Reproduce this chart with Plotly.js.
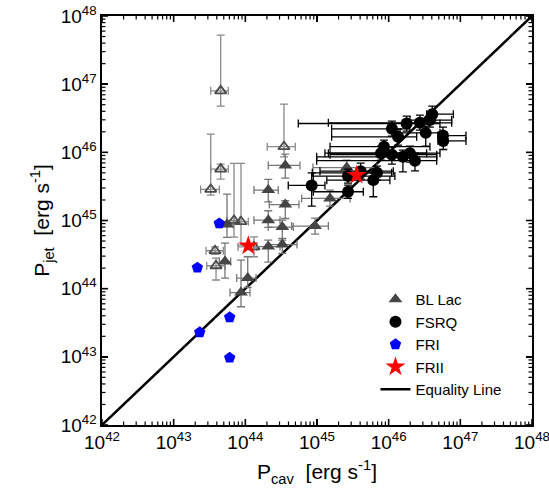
<!DOCTYPE html>
<html>
<head>
<meta charset="utf-8">
<script src="https://cdn.plot.ly/plotly-3.0.1.min.js"></script>
<style>html,body{margin:0;padding:0;background:#fff;}#chart{width:549px;height:501px;}</style>
</head>
<body>
<div id="chart"></div>
<script>
// ---- BL Lac (filled triangles) ----
const blX   = [3.61e44, 2.09e44, 3.61e44, 2.09e44, 5.55e43, 3.28e44, 2.09e44, 3.28e44, 5.2e43, 1.08e44, 8.7e43, 2.6e45, 1.52e45, 9.4e44];
const blY   = [6.43e45, 2.79e45, 1.71e45, 1.01e45, 8.71e44, 8.0e44, 4.14e44, 4.43e44, 2.51e44, 1.43e44, 8.77e43, 5.97e45, 2.11e45, 8.28e44];
const blXlo = [2.09e44, 1.32e44, 2.16e44, 1.32e44, 4.43e43, 2.09e44, 1.32e44, 2.09e44, 4.33e43, 7.57e43, 6.11e43, 8.79e44, 6.11e44, 4.43e44];
const blXhi = [5.79e44, 2.88e44, 5.61e44, 3.05e44, 6.79e43, 4.67e44, 3.05e44, 5.26e44, 6.25e43, 1.41e44, 1.16e44, 6.87e45, 2.89e45, 1.44e45];
const blYlo = [4.19e45, 1.88e45, 1.07e45, 7.92e44, 5.67e44, 5.16e44, 2.45e44, 3.29e44, 1.43e44, 1.04e44, 5.43e43, 4.63e45, 1.63e45, 6.32e44];
const blYhi = [9.41e45, 4.01e45, 1.95e45, 1.39e45, 2.44e45, 1.01e45, 5.16e44, 5.47e44, 4.66e44, 2.94e44, 2.63e44, 7.69e45, 2.79e45, 1.08e45];

// ---- BL Lac (open triangles) ----
const boX   = [4.53e43, 3.46e44, 4.53e43, 3.29e43, 6.95e43, 8.7e43, 3.78e43, 3.9e43, 1.32e44];
const boY   = [7.98e46, 1.21e46, 5.68e45, 2.86e45, 1.0e45, 9.6e44, 3.6e44, 2.17e44, 4.1e44];
const boXlo = [3.29e43, 2.02e44, 3.29e43, 2.38e43, 5.5e43, 7.0e43, 2.83e43, 2.89e43, 7.9e43];
const boXhi = [5.78e43, 4.98e44, 5.78e43, 4.34e43, 8.3e43, 1.1e44, 4.93e43, 5.2e43, 1.45e44];
const boYlo = [4.76e46, 8.6e45, 4.05e45, 2.36e45, 5.71e44, 4.36e44, 3.22e44, 1.34e44, 2.94e44];
const boYhi = [5.23e47, 5.09e46, 6.71e45, 1.85e46, 6.87e45, 6.87e45, 4.11e44, 2.81e44, 5.77e44];

// ---- FSRQ ----
const fsX   = [8.43e44, 2.71e45, 2.71e45, 4.07e45, 6.1e45, 6.87e45, 7.81e45, 8.6e45, 1.11e46, 1.11e46, 1.35e46, 1.78e46, 1.58e46, 1.98e46, 2.33e46, 2.73e46, 3.29e46, 3.77e46, 4.06e46, 5.73e46, 5.78e46];
const fsY   = [3.27e45, 2.64e45, 4.48e45, 5.3e45, 3.91e45, 5.0e45, 9.73e45, 1.21e46, 9.25e45, 2.21e46, 1.69e46, 2.65e46, 8.6e45, 9.73e45, 7.55e45, 2.71e46, 1.93e46, 2.97e46, 3.63e46, 1.76e46, 1.47e46];
const fsXlo = [3.97e44, 8.88e44, 8.88e44, 1.1e45, 1.37e45, 8.6e44, 1.29e45, 1.52e45, 1.52e45, 1.6e45, 1.6e45, 5.48e44, 9.9e44, 1.44e45, 9.9e44, 1.44e45, 1.44e46, 1.98e46, 3.39e46, 4.88e46, 4.88e46];
const fsXhi = [1.29e45, 4.43e45, 1.22e46, 1.16e46, 1.04e46, 1.1e46, 3.39e46, 3.77e46, 4.68e46, 1.98e46, 2.46e46, 5.2e46, 4.68e46, 5.2e46, 4.68e46, 7.57e46, 5.2e46, 7.57e46, 7.98e46, 1.2e47, 1.2e47];
const fsYlo = [1.63e45, 2.11e45, 3.53e45, 4.05e45, 2.23e45, 3.91e45, 7.69e45, 9.73e45, 6.71e45, 1.73e46, 1.28e46, 2.05e46, 5.18e45, 7.18e45, 5.36e45, 2.12e46, 1.23e46, 2.34e46, 2.87e46, 1.36e46, 1.1e46];
const fsYhi = [5.0e45, 3.3e45, 5.67e45, 6.95e45, 4.95e45, 6.28e45, 1.23e46, 1.51e46, 1.19e46, 2.87e46, 2.19e46, 3.4e46, 1.08e46, 1.23e46, 9.73e45, 3.51e46, 2.42e46, 3.88e46, 4.76e46, 2.34e46, 1.85e46];

// ---- FRI ----
const friX = [4.33e43, 2.14e43, 2.31e43, 6.05e43, 6.05e43];
const friY = [9.07e44, 2.03e44, 2.29e43, 3.8e43, 9.7e42];

// ---- FRII ----
const friiX = [1.1e44, 3.58e45];
const friiY = [4.26e44, 4.63e45];

// ---- Equality line ----
const eqX = [1e42, 1e48];
const eqY = [1e42, 1e48];

// ---- axis decades / minor tick multipliers ----
const decades = [42, 43, 44, 45, 46, 47, 48];
const minorMult = [2, 3, 4, 5, 6, 7, 8, 9];

const FONT = "Arial, Liberation Sans, sans-serif";
const plus  = (v, hi) => v.map((x, i) => hi[i] - x);
const minus = (v, lo) => v.map((x, i) => x - lo[i]);

const minorVals = [];
decades.slice(0, -1).forEach(d => minorMult.forEach(m => minorVals.push(m * Math.pow(10, d))));
const majorVals = decades.map(d => Math.pow(10, d));

const W = 549, H = 501;
const M = {l: 102, r: 17, t: 16, b: 76};
const pw = W - M.l - M.r, ph = H - M.t - M.b;
const LO = decades[0], HI = decades[decades.length - 1], SPAN = HI - LO;

// tick marks (inside, all four sides) built as line segments from the tick values
function tickSegments(vals, len, tx, ty) {
  const dy = len / ph * SPAN, dx = len / pw * SPAN;
  vals.forEach(v => {
    // bottom & top
    tx.push(v, v, null, v, v, null);
    ty.push(Math.pow(10, LO), Math.pow(10, LO + dy), null, Math.pow(10, HI), Math.pow(10, HI - dy), null);
    // left & right
    tx.push(Math.pow(10, LO), Math.pow(10, LO + dx), null, Math.pow(10, HI), Math.pow(10, HI - dx), null);
    ty.push(v, v, null, v, v, null);
  });
}
const majTx = [], majTy = [], minTx = [], minTy = [];
tickSegments(majorVals, 6, majTx, majTy);
tickSegments(minorVals, 3.5, minTx, minTy);

function errTrace(name, x, y, xlo, xhi, ylo, yhi, marker, ecol, show, rank) {
  return {
    type: 'scatter', mode: 'markers', name: name, x: x, y: y,
    showlegend: show, legendrank: rank,
    marker: marker,
    error_x: {type: 'data', symmetric: false, array: plus(x, xhi), arrayminus: minus(x, xlo), color: ecol, thickness: 1.3, width: 4},
    error_y: {type: 'data', symmetric: false, array: plus(y, yhi), arrayminus: minus(y, ylo), color: ecol, thickness: 1.3, width: 4}
  };
}

const traces = [
  {type: 'scatter', mode: 'lines', x: majTx, y: majTy, showlegend: false, hoverinfo: 'skip',
   connectgaps: false, cliponaxis: false, line: {color: '#000', width: 1.6}},
  {type: 'scatter', mode: 'lines', x: minTx, y: minTy, showlegend: false, hoverinfo: 'skip',
   connectgaps: false, cliponaxis: false, line: {color: '#000', width: 1.2}},
  {type: 'scatter', mode: 'lines', name: 'Equality Line', x: eqX, y: eqY, legendrank: 5,
   line: {color: '#000', width: 2.5}},
  errTrace('BL Lac open', boX, boY, boXlo, boXhi, boYlo, boYhi,
    {symbol: 'triangle-up-open', size: 10, color: '#4a4a4a', line: {width: 1.8, color: '#4a4a4a'}}, '#8a8a8a', false, 10),
  errTrace('BL Lac', blX, blY, blXlo, blXhi, blYlo, blYhi,
    {symbol: 'triangle-up', size: 12, color: '#454545', line: {width: 0}}, '#777777', true, 1),
  errTrace('FSRQ', fsX, fsY, fsXlo, fsXhi, fsYlo, fsYhi,
    {symbol: 'circle', size: 12, color: '#000', line: {width: 0}}, '#000000', true, 2),
  {type: 'scatter', mode: 'markers', name: 'FRI', x: friX, y: friY, legendrank: 3,
   marker: {symbol: 'pentagon', size: 12, color: '#0000ff', line: {width: 0}}},
  {type: 'scatter', mode: 'markers', name: 'FRII', x: friiX, y: friiY, legendrank: 4,
   marker: {symbol: 'star', size: 15, color: '#ff0000', line: {width: 0}}}
];

const axisCommon = {
  type: 'log', range: [LO, HI], tickmode: 'array', tickvals: majorVals,
  ticktext: decades.map(d => '10<sup>' + d + '</sup>'),
  showgrid: false, zeroline: false,
  showline: true, linecolor: '#000', linewidth: 1.6, mirror: 'allticks',
  ticks: 'inside', ticklen: 6, tickwidth: 1.6, tickcolor: '#000',
  ticklabeloverflow: 'allow',
  tickfont: {family: FONT, size: 19, color: '#000'}
};

const layout = {
  width: W, height: H,
  margin: M,
  paper_bgcolor: '#fff', plot_bgcolor: '#fff',
  showlegend: true,
  legend: {x: 0.636, y: 0.347, xanchor: 'left', yanchor: 'top', bgcolor: 'rgba(0,0,0,0)',
           font: {family: FONT, size: 15, color: '#000'}},
  xaxis: Object.assign({}, axisCommon, {
    title: {text: 'P<sub>cav</sub>&nbsp;&nbsp;[erg s<sup>-1</sup>]', font: {family: FONT, size: 21, color: '#000'}, standoff: 12}
  }),
  yaxis: Object.assign({}, axisCommon, {
    title: {text: 'P<sub>jet</sub>&nbsp;&nbsp;[erg s<sup>-1</sup>]', font: {family: FONT, size: 21, color: '#000'}, standoff: 5}
  })
};

Plotly.newPlot('chart', traces, layout, {displayModeBar: false, staticPlot: true});
</script>
</body>
</html>
